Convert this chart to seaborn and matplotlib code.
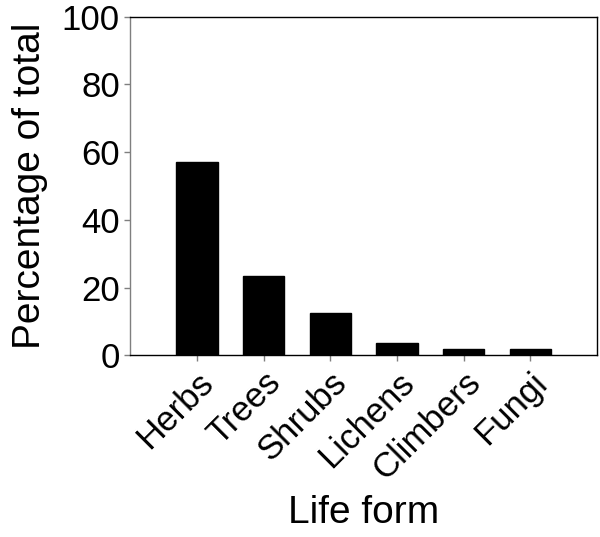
import pandas as pd
import seaborn as sns
import matplotlib.pyplot as plt

# Datos
formas = ["Herbs", "Trees", "Shrubs", "Lichens", "Climbers", "Fungi"]
porcentaje = [57.2, 23.4, 12.6, 3.7, 1.9, 1.9]

df = pd.DataFrame({"forma": formas, "porcentaje": porcentaje})

sns.set_style("ticks")
plt.rcParams["font.family"] = ["Liberation Sans", "DejaVu Sans"]
plt.rcParams["text.color"] = "black"
plt.rcParams["axes.labelcolor"] = "black"

fig = plt.figure(figsize=(6, 5.37), dpi=100)
ax = fig.add_axes([0.217, 0.338, 0.778, 0.631])
sns.barplot(data=df, x="forma", y="porcentaje", color="black", width=0.62,
            edgecolor="black", ax=ax)

ax.set_xlim(-1, 6)
ax.set_ylim(0, 100)
ax.set_yticks([0, 20, 40, 60, 80, 100])
ax.tick_params(axis="both", labelsize=25, length=4, width=1, colors="#7f7f7f",
               labelcolor="black")
plt.setp(ax.get_xticklabels(), rotation=45, ha="right", rotation_mode="anchor")
ax.set_xlabel("Life form", fontsize=28, labelpad=6)
ax.set_ylabel("Percentage of total", fontsize=28, labelpad=10)
for side in ["top", "right", "bottom"]:
    ax.spines[side].set_color("black")
ax.spines["left"].set_color("#7f7f7f")
for s in ax.spines.values():
    s.set_linewidth(1)

plt.savefig("out.png", dpi=100)
plt.close()
